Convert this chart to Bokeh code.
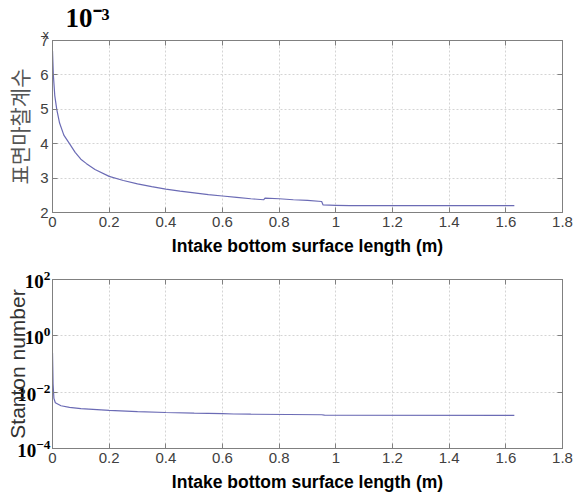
from bokeh.plotting import figure
from bokeh.layouts import column
from bokeh.models import Range1d, FixedTicker, LinearAxis, LogAxis, Title, CustomJSTickFormatter, LogTickFormatter
from bokeh.embed import file_html
from bokeh.resources import INLINE

# ---- data ----
cf_x = [0, 0.003, 0.008, 0.015, 0.025, 0.04, 0.06, 0.08, 0.10, 0.12, 0.15, 0.20, 0.25, 0.30,
        0.35, 0.40, 0.45, 0.50, 0.55, 0.60, 0.65, 0.70, 0.745, 0.750, 0.80, 0.85, 0.90, 0.95,
        0.955, 1.00, 1.05, 1.63]
cf_y = [6.7e-3, 6.0e-3, 5.4e-3, 5.0e-3, 4.6e-3, 4.25e-3, 4.0e-3, 3.75e-3, 3.55e-3, 3.42e-3,
        3.25e-3, 3.05e-3, 2.93e-3, 2.83e-3, 2.75e-3, 2.68e-3, 2.62e-3, 2.57e-3, 2.52e-3, 2.48e-3,
        2.44e-3, 2.40e-3, 2.37e-3, 2.42e-3, 2.40e-3, 2.37e-3, 2.35e-3, 2.32e-3, 2.22e-3, 2.21e-3,
        2.20e-3, 2.20e-3]

st_x = [0, 0.002, 0.005, 0.01, 0.03, 0.06, 0.10, 0.20, 0.30, 0.40, 0.50, 0.60, 0.64, 0.70,
        0.95, 0.96, 1.63]
st_y = [0.25, 0.02, 6e-3, 4.2e-3, 3.3e-3, 2.9e-3, 2.6e-3, 2.25e-3, 2.05e-3, 1.9e-3, 1.8e-3,
        1.72e-3, 1.68e-3, 1.65e-3, 1.58e-3, 1.52e-3, 1.5e-3]

x_ticks = [0, 0.2, 0.4, 0.6, 0.8, 1.0, 1.2, 1.4, 1.6, 1.8]
x_tick_labels = ["0", "0.2", "0.4", "0.6", "0.8", "1", "1.2", "1.4", "1.6", "1.8"]
cf_ticks = [2, 3, 4, 5, 6, 7]
st_ticks = [1e-4, 1e-2, 1, 1e2]

x_label = "Intake bottom surface length (m)"
cf_label = "표면마찰계수"
st_label = "Stanton number"
mult_x = "x"
mult_exp = "10\u207b\u00b3"

LINE = "#6b6bb5"
GRAY = "#808080"
TICKFONT = "Liberation Sans"
TICKCOL = "#404040"

xlab_over = {t: l for t, l in zip(x_ticks, x_tick_labels)}


def empty_fmt():
    return CustomJSTickFormatter(code="return ''")


def style(p):
    p.outline_line_color = GRAY
    p.outline_line_width = 1
    p.background_fill_color = "white"
    p.border_fill_color = "white"
    p.xgrid.ticker = FixedTicker(ticks=x_ticks)
    for g in (p.xgrid, p.ygrid):
        g.grid_line_color = "#d4d4d4"
        g.grid_line_dash = "2 2"
        g.grid_line_width = 1
    for ax in p.axis:
        ax.axis_line_color = GRAY
        ax.major_tick_line_color = GRAY
        ax.major_tick_in = 5
        ax.major_tick_out = 0
        ax.minor_tick_in = 0
        ax.minor_tick_out = 0
        ax.major_label_text_font = TICKFONT
        ax.major_label_text_font_size = "15px"
        ax.major_label_text_color = TICKCOL
        ax.major_label_standoff = 4
    p.xaxis.ticker = FixedTicker(ticks=x_ticks)
    p.xaxis.major_label_overrides = xlab_over
    p.xaxis.axis_label = x_label
    p.xaxis.axis_label_text_font = "Liberation Sans"
    p.xaxis.axis_label_text_font_style = "bold"
    p.xaxis.axis_label_text_font_size = "17.5px"
    p.xaxis.axis_label_text_color = "black"
    p.xaxis.axis_label_standoff = 6


def box_axes(p, yticks, log=False):
    AxisCls = LogAxis if log else LinearAxis
    ra = AxisCls(ticker=FixedTicker(ticks=yticks, minor_ticks=[]), formatter=empty_fmt(),
                 axis_line_color=GRAY, major_tick_line_color=GRAY, major_tick_in=5, major_tick_out=0,
                 minor_tick_in=0, minor_tick_out=0, major_label_standoff=0)
    ta = LinearAxis(ticker=FixedTicker(ticks=x_ticks), formatter=empty_fmt(),
                    axis_line_color=GRAY, major_tick_line_color=GRAY, major_tick_in=5, major_tick_out=0,
                    minor_tick_in=0, minor_tick_out=0, major_label_standoff=0)
    p.add_layout(ra, "right")
    p.add_layout(ta, "above")


# ---- top plot ----
p1 = figure(width=573, height=262, output_backend="svg", toolbar_location=None,
            x_range=Range1d(0, 1.8), y_range=Range1d(2e-3, 7e-3),
            min_border_left=52, min_border_right=11, min_border_top=40, min_border_bottom=50)
p1.title = None
p1.line(cf_x, cf_y, line_color=LINE, line_width=1.2)
style(p1)
cf_tick_vals = [t * 1e-3 for t in cf_ticks]
p1.yaxis.ticker = FixedTicker(ticks=cf_tick_vals)
p1.yaxis.formatter = CustomJSTickFormatter(code="return String(Math.round(tick*1000))")
p1.ygrid.ticker = FixedTicker(ticks=cf_tick_vals)
p1.yaxis.axis_label = cf_label
p1.yaxis.axis_label_text_font = "Noto Sans CJK KR"
p1.yaxis.axis_label_text_font_style = "normal"
p1.yaxis.axis_label_text_font_size = "21px"
p1.yaxis.axis_label_text_color = "#555555"
p1.yaxis.axis_label_standoff = 3
box_axes(p1, cf_tick_vals)
p1.add_layout(Title(text=mult_x, align="left", offset=-10, standoff=-2,
                    text_font="Liberation Sans", text_font_size="13px", text_font_style="normal",
                    text_color=TICKCOL), "above")
p1.add_layout(Title(text=mult_exp, align="left", offset=13, standoff=-14,
                    text_font="Liberation Serif", text_font_size="27px", text_font_style="bold",
                    text_color="black"), "above")

# ---- bottom plot ----
p2 = figure(width=573, height=238, output_backend="svg", toolbar_location=None,
            x_range=Range1d(0, 1.8), y_range=Range1d(1e-4, 1e2), y_axis_type="log",
            min_border_left=52, min_border_right=11, min_border_top=17, min_border_bottom=52)
p2.title = None
p2.line(st_x, st_y, line_color=LINE, line_width=1.2)
style(p2)
p2.yaxis.ticker = FixedTicker(ticks=st_ticks, minor_ticks=[])
p2.yaxis.formatter = LogTickFormatter()
p2.yaxis.major_label_text_font = "Liberation Serif"
p2.yaxis.major_label_text_font_style = "bold"
p2.yaxis.major_label_text_font_size = "19px"
p2.yaxis.major_label_text_color = "black"
p2.yaxis.major_label_standoff = 2
p2.yaxis.axis_label = st_label
p2.yaxis.axis_label_text_font = "Liberation Sans"
p2.yaxis.axis_label_text_font_style = "normal"
p2.yaxis.axis_label_text_font_size = "21px"
p2.yaxis.axis_label_text_color = "#333333"
p2.yaxis.axis_label_standoff = -15
p2.ygrid.ticker = FixedTicker(ticks=st_ticks)
box_axes(p2, st_ticks, log=True)

layout = column(p1, p2, spacing=0)
open("out.html", "w").write(file_html(layout, INLINE))
